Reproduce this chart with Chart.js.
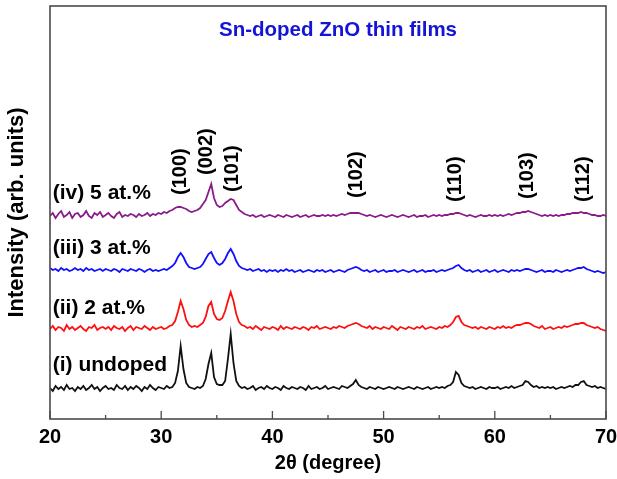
<!DOCTYPE html>
<html>
<head>
<meta charset="utf-8">
<script src="https://cdn.jsdelivr.net/npm/chart.js@4.4.0/dist/chart.umd.min.js"></script>
<style>
  html, body { margin: 0; padding: 0; background: #fff; }
  #wrap { width: 617px; height: 479px; }
</style>
</head>
<body>
<div id="wrap"><canvas id="xrdChart" width="617" height="479"></canvas></div>
<script>
// 2theta grid (degree)
var twoTheta = [
  20, 20.25, 20.5, 20.75, 21, 21.25, 21.5, 21.75, 22, 22.25,
  22.5, 22.75, 23, 23.25, 23.5, 23.75, 24, 24.25, 24.5, 24.75,
  25, 25.25, 25.5, 25.75, 26, 26.25, 26.5, 26.75, 27, 27.25,
  27.5, 27.75, 28, 28.25, 28.5, 28.75, 29, 29.25, 29.5, 29.75,
  30, 30.25, 30.5, 30.75, 31, 31.25, 31.5, 31.75, 32, 32.25,
  32.5, 32.75, 33, 33.25, 33.5, 33.75, 34, 34.25, 34.5, 34.75,
  35, 35.25, 35.5, 35.75, 36, 36.25, 36.5, 36.75, 37, 37.25,
  37.5, 37.75, 38, 38.25, 38.5, 38.75, 39, 39.25, 39.5, 39.75,
  40, 40.25, 40.5, 40.75, 41, 41.25, 41.5, 41.75, 42, 42.25,
  42.5, 42.75, 43, 43.25, 43.5, 43.75, 44, 44.25, 44.5, 44.75,
  45, 45.25, 45.5, 45.75, 46, 46.25, 46.5, 46.75, 47, 47.25,
  47.5, 47.75, 48, 48.25, 48.5, 48.75, 49, 49.25, 49.5, 49.75,
  50, 50.25, 50.5, 50.75, 51, 51.25, 51.5, 51.75, 52, 52.25,
  52.5, 52.75, 53, 53.25, 53.5, 53.75, 54, 54.25, 54.5, 54.75,
  55, 55.25, 55.5, 55.75, 56, 56.25, 56.5, 56.75, 57, 57.25,
  57.5, 57.75, 58, 58.25, 58.5, 58.75, 59, 59.25, 59.5, 59.75,
  60, 60.25, 60.5, 60.75, 61, 61.25, 61.5, 61.75, 62, 62.25,
  62.5, 62.75, 63, 63.25, 63.5, 63.75, 64, 64.25, 64.5, 64.75,
  65, 65.25, 65.5, 65.75, 66, 66.25, 66.5, 66.75, 67, 67.25,
  67.5, 67.75, 68, 68.25, 68.5, 68.75, 69, 69.25, 69.5, 69.75,
  70
];

// intensities (arb. units)
var undoped = [
  31, 28, 33, 30, 32, 29, 34, 30, 31, 28,
  32, 30, 33, 29, 31, 34, 30, 32, 28, 31,
  33, 30, 31, 29, 34, 31, 30, 33, 29, 32,
  30, 33, 31, 28, 32, 30, 34, 31, 29, 32,
  31, 30, 33, 31, 32, 36, 48, 73, 50, 36,
  32, 31, 30, 32, 31, 33, 40, 55, 66, 42,
  35, 34, 34, 38, 60, 85, 56, 38, 33, 31,
  32, 30, 31, 33, 29, 31, 32, 30, 33, 31,
  30, 32, 31, 29, 33, 31, 30, 32, 31, 30,
  32, 31, 29, 33, 30, 31, 32, 30, 31, 33,
  30, 31, 32, 31, 30, 33, 32, 31, 33, 35,
  39, 34, 32, 31, 30, 32, 31, 30, 32, 31,
  30, 31, 32, 31, 30, 32, 31, 30, 31, 32,
  31, 30, 32, 31, 30, 31, 32, 30, 31, 32,
  31, 32, 31, 33, 34, 37, 47, 44, 36, 33,
  32, 31, 32, 30, 31, 32, 31, 30, 32, 31,
  31, 32, 30, 31, 32, 31, 33, 31, 32, 33,
  34, 38, 37, 34, 32, 33, 31, 32, 31, 32,
  31, 32, 30, 31, 32, 31, 32, 33, 32, 34,
  34, 37, 38, 34, 33, 32, 33, 31, 32, 31,
  30
];

var sn2 = [
  30, 33, 29, 32, 31, 28, 34, 30, 32, 29,
  31, 33, 30, 28, 32, 31, 34, 29, 31, 32,
  30, 32, 29, 33, 31, 30, 32, 28, 31, 33,
  29, 32, 31, 30, 33, 31, 29, 32, 30, 31,
  32, 30, 31, 33, 34, 38, 47, 58, 50, 39,
  34, 32, 33, 32, 34, 36, 42, 53, 57, 45,
  40, 39, 41, 48, 58, 67, 58, 45, 37, 34,
  33, 31, 32, 30, 33, 31, 29, 32, 31, 30,
  32, 31, 29, 33, 30, 32, 31, 30, 32, 31,
  30, 32, 31, 29, 32, 31, 33, 30, 31, 32,
  31, 30, 32, 31, 33, 32, 31, 33, 34, 35,
  36, 35, 33, 32, 31, 33, 30, 32, 31, 30,
  32, 31, 30, 33, 31, 29, 32, 31, 30, 32,
  31, 30, 32, 31, 33, 30, 31, 32, 31, 30,
  32, 31, 33, 32, 34, 37, 42, 43, 37, 34,
  33, 32, 31, 32, 30, 32, 31, 30, 32, 31,
  30, 32, 31, 33, 31, 32, 31, 33, 34, 34,
  35, 36, 36, 35, 33, 32, 31, 33, 30, 31,
  32, 30, 31, 32, 31, 33, 32, 33, 34, 35,
  35, 36, 36, 34, 33, 32, 31, 32, 30, 29,
  28
];

var sn3 = [
  33, 31, 32, 30, 33, 31, 32, 30, 31, 33,
  31, 32, 30, 33, 31, 32, 30, 31, 32, 30,
  32, 31, 30, 32, 31, 29, 32, 31, 30, 32,
  31, 30, 32, 31, 29, 31, 32, 30, 31, 30,
  31, 32, 31, 33, 35, 38, 44, 48, 44, 38,
  34, 33, 32, 33, 34, 37, 42, 47, 49, 43,
  38, 36, 38, 42, 48, 52, 47, 40, 35, 33,
  32, 31, 32, 30, 31, 32, 30, 31, 29, 31,
  30, 31, 29, 31, 30, 32, 30, 31, 29, 30,
  31, 29, 30, 31, 30, 29, 31, 30, 31, 29,
  30, 31, 29, 30, 31, 30, 29, 31, 32, 33,
  34, 33, 31, 30, 31, 29, 30, 31, 29, 30,
  31, 29, 30, 30, 31, 29, 30, 31, 30, 29,
  30, 31, 29, 30, 31, 29, 30, 30, 31, 29,
  30, 31, 30, 31, 32, 33, 35, 36, 33, 31,
  30, 31, 29, 30, 31, 29, 30, 31, 29, 30,
  31, 29, 30, 31, 30, 29, 31, 30, 31, 30,
  31, 32, 32, 31, 30, 29, 30, 31, 29, 30,
  30, 29, 31, 30, 29, 30, 31, 30, 31, 32,
  33, 33, 34, 32, 31, 30, 29, 30, 29, 28,
  29
];

var sn5 = [
  30, 33, 28, 32, 35, 29, 31, 34, 28, 32,
  33, 29, 31, 35, 30, 28, 33, 31, 34, 29,
  31, 33, 30, 28, 32, 34, 29, 31, 30, 32,
  31, 29, 32, 30, 31, 33, 30, 32, 31, 33,
  32, 34, 33, 35, 36, 38, 39, 39, 38, 37,
  35, 34, 35, 36, 38, 42, 46, 54, 62, 48,
  41, 39, 40, 43, 45, 47, 46, 41, 36, 34,
  32, 31, 30, 31, 29, 30, 31, 29, 30, 31,
  30, 29, 31, 30, 29, 31, 30, 29, 30, 31,
  29, 30, 31, 29, 30, 31, 30, 30, 31, 30,
  31, 30, 31, 30, 31, 32, 31, 32, 33, 33,
  33, 33, 32, 31, 30, 31, 30, 29, 30, 31,
  30, 29, 30, 31, 30, 29, 30, 31, 30, 29,
  30, 31, 29, 30, 30, 31, 29, 30, 31, 30,
  31, 30, 31, 31, 32, 32, 33, 33, 32, 31,
  30, 31, 30, 29, 30, 31, 30, 30, 31, 30,
  31, 30, 31, 30, 31, 32, 31, 32, 33, 33,
  34, 34, 35, 34, 33, 32, 31, 30, 31, 30,
  31, 30, 31, 30, 31, 31, 32, 32, 33, 33,
  33, 34, 33, 33, 32, 31, 31, 30, 30, 31,
  30
];

var sampleNames = ['(i) undoped', '(ii) 2 at.%', '(iii) 3 at.%', '(iv) 5 at.%'];
var stackOffset = [0, 60, 118, 173];   // vertical shift for clarity
var hklLabels = ['(100)', '(002)', '(101)', '(102)', '(110)', '(103)', '(112)'];
var hklAt = [31.7, 34.1, 36.4, 47.6, 56.5, 62.9, 68.0];
var xTickValues = [20, 30, 40, 50, 60, 70];

var FONT = '"Liberation Sans", Arial, Helvetica, sans-serif';
var traceColors = ['#111111', '#ff1010', '#1010ff', '#8a1c8a'];

function toPoints(vals, off) {
  return vals.map(function (v, i) { return { x: twoTheta[i], y: v + off }; });
}

var series = [undoped, sn2, sn3, sn5];
var datasets = series.map(function (s, k) {
  return {
    label: sampleNames[k],
    data: toPoints(s, stackOffset[k]),
    borderColor: traceColors[k],
    backgroundColor: traceColors[k],
    borderWidth: 1.8,
    pointRadius: 0,
    tension: 0,
    fill: false
  };
});

// frame, inward ticks and text labels
var overlay = {
  id: 'overlay',
  afterDatasetsDraw: function (chart) {
    var ctx = chart.ctx, a = chart.chartArea;
    var xs = chart.scales.x, ys = chart.scales.y;
    ctx.save();
    ctx.strokeStyle = '#4a4a4a';
    ctx.lineWidth = 1.6;
    ctx.strokeRect(a.left, a.top, a.right - a.left, a.bottom - a.top);

    // ticks on the bottom axis, pointing in
    ctx.lineWidth = 1.3;
    for (var i = 0; i < xTickValues.length; i++) {
      var px = xs.getPixelForValue(xTickValues[i]);
      ctx.beginPath(); ctx.moveTo(px, a.bottom); ctx.lineTo(px, a.bottom - 8); ctx.stroke();
      if (i < xTickValues.length - 1) {
        var mx = xs.getPixelForValue((xTickValues[i] + xTickValues[i + 1]) / 2);
        ctx.beginPath(); ctx.moveTo(mx, a.bottom); ctx.lineTo(mx, a.bottom - 4); ctx.stroke();
      }
    }

    // title inside the plot
    ctx.fillStyle = '#1414d8';
    ctx.font = 'bold 20.5px ' + FONT;
    ctx.textAlign = 'center';
    ctx.textBaseline = 'middle';
    ctx.fillText('Sn-doped ZnO thin films', xs.getPixelForValue(45.9), ys.getPixelForValue(389));

    // sample names
    ctx.fillStyle = '#000';
    ctx.textAlign = 'left';
    ctx.font = 'bold 21px ' + FONT;
    var nameY = [54, 111, 171, 226];
    for (var k = 0; k < sampleNames.length; k++) {
      ctx.fillText(sampleNames[k], xs.getPixelForValue(20.25), ys.getPixelForValue(nameY[k]));
    }

    // Miller indices, rotated
    ctx.font = 'bold 20px ' + FONT;
    var hklBottom = [224, 244, 227, 221, 217, 220, 217];
    for (var j = 0; j < hklLabels.length; j++) {
      ctx.save();
      ctx.translate(xs.getPixelForValue(hklAt[j]), ys.getPixelForValue(hklBottom[j]));
      ctx.rotate(-Math.PI / 2);
      ctx.textAlign = 'left';
      ctx.fillText(hklLabels[j], 0, 0);
      ctx.restore();
    }
    ctx.restore();
  }
};

var ctx = document.getElementById('xrdChart').getContext('2d');
var xrdChart = new Chart(ctx, {
  type: 'line',
  data: { datasets: datasets },
  plugins: [overlay],
  options: {
    responsive: false,
    animation: false,
    layout: { padding: { top: 6, right: 11, left: 0, bottom: 0 } },
    plugins: { legend: { display: false }, tooltip: { enabled: false } },
    scales: {
      x: {
        type: 'linear',
        min: 20,
        max: 70,
        afterBuildTicks: function (scale) {
          scale.ticks = xTickValues.map(function (v) { return { value: v }; });
        },
        afterFit: function (scale) {
          scale.height = 60;
          scale.paddingLeft = 0;
          scale.paddingRight = 0;
        },
        grid: { display: false, drawTicks: false },
        border: { display: false },
        ticks: {
          padding: 6,
          color: '#000',
          font: { family: FONT, size: 20, weight: 'bold' },
          maxRotation: 0
        },
        title: {
          display: true,
          text: '2θ (degree)',
          color: '#000',
          font: { family: FONT, size: 20, weight: 'bold' },
          padding: { top: 0, bottom: 4 }
        }
      },
      y: {
        type: 'linear',
        min: 0,
        max: 413,
        afterFit: function (scale) { scale.width = 50; },
        grid: { display: false, drawTicks: false },
        border: { display: false },
        ticks: { display: false },
        title: {
          display: true,
          text: 'Intensity (arb. units)',
          color: '#000',
          font: { family: FONT, size: 22, weight: 'bold' },
          padding: { top: 4, bottom: 0 }
        }
      }
    }
  }
});
</script>
</body>
</html>
